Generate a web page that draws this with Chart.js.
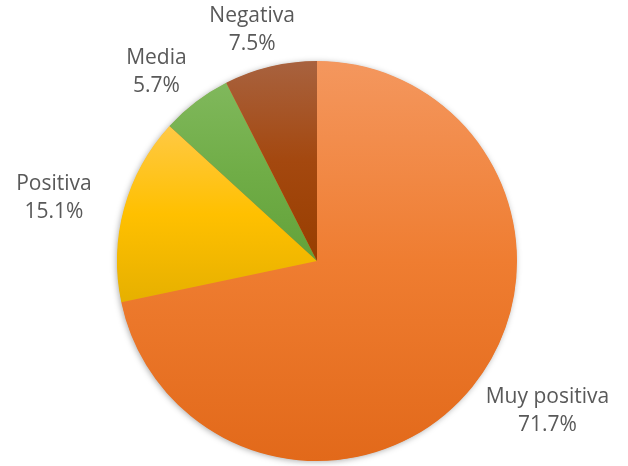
<!DOCTYPE html>
<html>
<head>
<meta charset="utf-8">
<script src="https://cdn.jsdelivr.net/npm/chart.js@4.4.1/dist/chart.umd.min.js"></script>
<style>
  html, body { margin: 0; padding: 0; background: #fff; }
  #wrap { width: 628px; height: 466px; }
</style>
</head>
<body>
<div id="wrap"><canvas id="pie"></canvas></div>
<script>
// categorias e porcentagens
const categorias = ['Muy positiva', 'Positiva', 'Media', 'Negativa'];
const valores = [71.7, 15.1, 5.7, 7.5];

// cores base (claro, base, escuro) para o degradê de cada fatia
const coresClaras = ['#F4975E', '#FFC945', '#80B85C', '#A8623F'];
const coresBase = ['#EF7D31', '#FFC000', '#70AD47', '#A4480F'];
const coresEscuras = ['#E2691A', '#E6B000', '#63A23A', '#983E00'];

const total = valores.reduce((a, b) => a + b, 0);

// limites verticais de uma fatia (ângulo medido do topo, sentido horário)
function limitesFatia(cx, cy, r, a0, a1) {
    const ys = [cy, cy - r * Math.cos(a0), cy - r * Math.cos(a1)];
    for (let k = 0; k <= 2; k++) {
        const a = k * Math.PI;
        if (a > a0 && a < a1) ys.push(cy - r * Math.cos(a));
    }
    return [Math.min(...ys), Math.max(...ys)];
}

function corFatia(context) {
    const chart = context.chart;
    const area = chart.chartArea;
    const i = context.dataIndex;
    if (!area) return coresBase[i];
    const cx = (area.left + area.right) / 2;
    const cy = (area.top + area.bottom) / 2;
    const r = Math.min(area.right - area.left, area.bottom - area.top) / 2;
    let acum = 0;
    for (let k = 0; k < i; k++) acum += valores[k];
    const a0 = acum / total * 2 * Math.PI;
    const a1 = (acum + valores[i]) / total * 2 * Math.PI;
    const [y0, y1] = limitesFatia(cx, cy, r, a0, a1);
    const g = chart.ctx.createLinearGradient(0, y0, 0, y1);
    g.addColorStop(0, coresClaras[i]);
    g.addColorStop(0.5, coresBase[i]);
    g.addColorStop(1, coresEscuras[i]);
    return g;
}

// sombra suave atrás da pizza
const sombraPizza = {
    id: 'sombraPizza',
    beforeDatasetsDraw(chart) {
        const arc = chart.getDatasetMeta(0).data[0];
        if (!arc) return;
        const ctx = chart.ctx;
        ctx.save();
        ctx.shadowColor = 'rgba(0,0,0,0.35)';
        ctx.shadowBlur = 6;
        ctx.shadowOffsetX = -1;
        ctx.shadowOffsetY = 1;
        ctx.fillStyle = '#ED7D31';
        ctx.beginPath();
        ctx.arc(arc.x, arc.y, arc.outerRadius - 0.5, 0, Math.PI * 2);
        ctx.fill();
        ctx.restore();
    }
};

// rótulos externos: nome e porcentagem
const rotulos = {
    id: 'rotulos',
    afterDatasetsDraw(chart) {
        const ctx = chart.ctx;
        const meta = chart.getDatasetMeta(0);
        ctx.save();
        ctx.font = '21px "Open Sans", "Liberation Sans", sans-serif';
        ctx.fillStyle = '#595959';
        ctx.textAlign = 'center';
        ctx.textBaseline = 'middle';
        const alturaLinha = 28;
        meta.data.forEach((arc, i) => {
            const meio = (arc.startAngle + arc.endAngle) / 2;
            const dx = Math.cos(meio), dy = Math.sin(meio);
            const linhas = [categorias[i], valores[i].toFixed(1) + '%'];
            const w = Math.max(...linhas.map(t => ctx.measureText(t).width));
            const h = alturaLinha * 2;
            const x = arc.x + dx * (arc.outerRadius + 10 + w / 2 + 25);
            const y = arc.y + dy * (arc.outerRadius + 10 + h / 2);
            ctx.fillText(linhas[0], x, y - alturaLinha / 2);
            ctx.fillText(linhas[1], x, y + alturaLinha / 2);
        });
        ctx.restore();
    }
};

new Chart(document.getElementById('pie'), {
    type: 'pie',
    data: {
        labels: categorias,
        datasets: [{
            data: valores,
            backgroundColor: corFatia,
            borderWidth: 0,
            hoverOffset: 0
        }]
    },
    options: {
        responsive: true,
        maintainAspectRatio: false,
        animation: false,
        layout: { padding: { top: 61, bottom: 5, left: 117, right: 111 } },
        plugins: {
            legend: { display: false },
            tooltip: { enabled: false }
        }
    },
    plugins: [sombraPizza, rotulos]
});
</script>
</body>
</html>
